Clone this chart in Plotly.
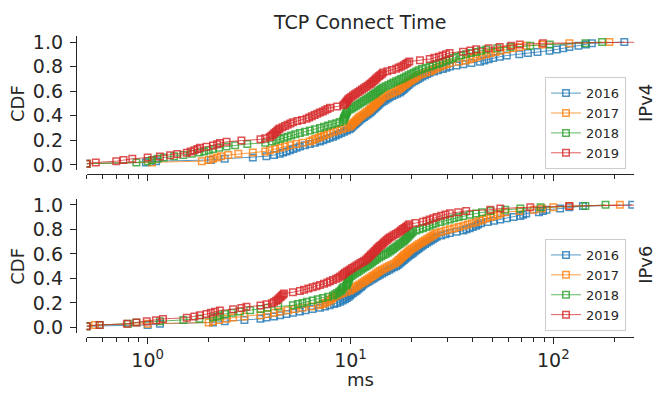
import math
import plotly.graph_objects as go

W, H = 655, 399

# ---------------- data (ms samples) ----------------
years = ["2016", "2017", "2018", "2019"]
colors = ["#1f77b4", "#ff7f0e", "#2ca02c", "#d62728"]
panel_labels = ["IPv4", "IPv6"]
x_tick_vals = [1, 10, 100]
x_tick_text = ["10<sup>0</sup>", "10<sup>1</sup>", "10<sup>2</sup>"]
y_tick_vals = [0.0, 0.2, 0.4, 0.6, 0.8, 1.0]
y_tick_text = ["0.0", "0.2", "0.4", "0.6", "0.8", "1.0"]

ipv4_2016 = [0.50, 0.98, 1.10, 2.05, 2.40, 3.30, 3.85, 4.20, 4.48, 4.65, 4.84, 5.03, 5.22, 5.42, 5.63,
             5.96, 6.31, 6.68, 7.07, 7.34, 7.62, 7.90, 8.20, 8.46, 8.73, 9.01, 9.30, 9.60, 9.90, 10.05,
             10.2, 10.36, 10.52, 10.68, 10.84, 11.0, 11.2, 11.45, 11.68, 11.9, 12.15, 12.4, 12.58, 12.77,
             12.96, 13.15, 13.35, 13.55, 13.75, 13.95, 14.27, 14.6, 14.9, 15.25, 15.6, 16.05, 16.5, 17.0,
             17.5, 17.8, 18.1, 18.4, 18.7, 19.0, 19.3, 19.6, 20.05, 20.5, 21.0, 21.5, 22.0, 22.6, 23.3,
             23.9, 24.6, 25.8, 27.0, 28.5, 29.7, 30.9, 33.3, 36.0, 39.5, 43.5, 45.7, 48.0, 50.5, 54.5,
             59.0, 68.0, 75.0, 83.6, 95.8, 104, 112, 120, 133, 145, 155, 224]
ipv4_2017 = [0.50, 1.05, 1.85, 2.0, 2.1, 2.2, 2.3, 2.5, 2.8, 3.3, 3.8, 4.0, 4.25, 4.5, 4.75, 5.05, 5.4,
             5.8, 6.3, 6.5, 6.7, 6.95, 7.15, 7.4, 7.65, 7.9, 8.26, 8.64, 9.04, 9.46, 9.9, 10.04, 10.18,
             10.33, 10.48, 10.63, 10.78, 10.94, 11.1, 11.33, 11.56, 11.8, 12.03, 12.28, 12.46, 12.64,
             12.83, 13.0, 13.2, 13.4, 13.6, 13.8, 14.0, 14.2, 14.4, 14.85, 15.3, 15.8, 16.3, 16.8, 17.1,
             17.5, 17.8, 18.1, 18.5, 18.9, 19.2, 19.6, 20.0, 20.5, 20.9, 21.3, 21.8, 22.5, 23.5, 24.6,
             25.3, 26.0, 26.8, 27.6, 28.7, 29.8, 30.9, 34.2, 37.0, 38.7, 40.3, 42.0, 44.3, 46.7, 49.2,
             51.9, 54.8, 58.8, 63.3, 68.2, 73.5, 88, 120, 189]
ipv4_2018 = [0.50, 0.88, 1.0, 1.05, 1.12, 1.2, 1.35, 1.5, 1.65, 1.8, 1.9, 2.0, 2.1, 2.25, 2.45, 2.7, 3.1,
             3.8, 4.1, 4.3, 4.5, 4.7, 4.9, 5.1, 5.35, 5.63, 5.96, 6.31, 6.68, 7.07, 7.4, 7.75, 8.1, 8.5,
             8.85, 9.2, 9.25, 9.3, 9.36, 9.42, 9.48, 9.54, 9.6, 9.66, 9.92, 10.15, 10.38, 10.6, 10.85,
             11.1, 11.35, 11.6, 11.86, 12.13, 12.4, 12.65, 12.9, 13.15, 13.4, 13.66, 13.93, 14.2, 14.5,
             14.93, 15.4, 15.84, 16.3, 16.8, 17.3, 17.8, 18.3, 18.8, 19.35, 19.9, 20.5, 21.1, 21.7, 22.5,
             23.5, 24.6, 25.5, 26.5, 27.5, 28.5, 29.6, 30.8, 32.0, 33.2, 35.1, 37.1, 39.3, 41.6, 44.0,
             46.8, 53.0, 61.4, 77, 96, 144, 174]
ipv4_2019 = [0.50, 0.555, 0.70, 0.76, 0.84, 1.0, 1.15, 1.29, 1.4, 1.56, 1.63, 1.7, 1.76, 1.81, 1.95,
             2.1, 2.2, 2.27, 2.45, 2.9, 3.6, 3.8, 4.0, 4.07, 4.14, 4.21, 4.28, 4.35, 4.42, 4.48, 4.62,
             4.76, 4.9, 5.05, 5.2, 5.47, 5.76, 6.07, 6.26, 6.45, 6.65, 6.86, 7.07, 7.3, 7.5, 7.7, 7.93,
             8.6, 9.2, 9.35, 9.45, 9.55, 9.65, 9.75, 9.9, 10.1, 10.3, 10.5, 10.7, 10.93, 11.16, 11.4,
             11.64, 11.89, 12.14, 12.4, 12.6, 12.8, 13.0, 13.2, 13.4, 13.6, 13.85, 14.05, 14.3, 14.5,
             15.2, 16.0, 16.8, 17.3, 17.8, 18.3, 18.7, 19.1, 19.5, 22.0, 24.6, 25.9, 27.3, 28.4, 29.6,
             30.8, 35.9, 39.0, 41.7, 48.0, 54.4, 62.0, 68.4, 89, 320]

ipv6_2016 = [0.50, 1.0, 1.15, 2.1, 2.4, 3.0, 3.6, 3.85, 4.2, 4.5, 4.84, 5.2, 5.63, 6.0, 6.5, 7.07, 7.5,
             7.9, 8.3, 8.6, 8.9, 9.15, 9.4, 9.6, 9.8, 9.95, 10.1, 10.3, 10.5, 10.7, 10.85, 11.05, 11.25,
             11.4, 11.6, 11.87, 12.15, 12.43, 12.72, 13.0, 13.3, 13.62, 13.95, 14.33, 14.7, 15.1, 15.5,
             15.9, 16.35, 16.8, 17.1, 17.4, 17.7, 18.0, 18.3, 18.6, 18.95, 19.3, 19.6, 20.0, 20.35, 20.7,
             21.1, 21.5, 21.9, 22.35, 22.8, 23.3, 23.8, 24.35, 24.9, 25.45, 26.0, 26.6, 28.0, 29.4, 30.9,
             33.4, 36.0, 37.3, 38.7, 40.1, 41.6, 42.6, 44.0, 47.5, 51.0, 54.8, 59.0, 63.7, 68.8, 71.0,
             73.5, 85, 89, 92.6, 108, 120, 140, 245]
ipv6_2017 = [0.50, 0.55, 1.0, 2.0, 2.1, 2.25, 2.45, 2.64, 3.0, 3.6, 3.9, 4.2, 4.48, 4.9, 5.3, 5.8, 6.4,
             7.07, 7.3, 7.5, 7.7, 7.93, 8.05, 8.15, 8.3, 8.6, 8.9, 9.2, 9.55, 9.9, 10.13, 10.36, 10.6,
             10.84, 11.08, 11.34, 11.6, 11.84, 12.08, 12.33, 12.59, 12.85, 13.11, 13.38, 13.66, 13.95,
             14.3, 14.7, 15.1, 15.5, 15.9, 16.35, 16.8, 17.05, 17.3, 17.6, 17.85, 18.15, 18.4, 18.7,
             19.0, 19.3, 19.6, 20.0, 20.45, 20.9, 21.35, 21.8, 22.3, 22.8, 23.3, 23.8, 24.35, 24.9,
             25.45, 26.0, 26.6, 27.9, 29.4, 30.9, 32.5, 34.2, 36.0, 37.8, 39.7, 41.6, 43.3, 45.0, 46.8,
             49.0, 51.0, 53.0, 54.8, 58, 68, 80, 88, 100, 120, 213]
ipv6_2018 = [0.50, 0.58, 0.8, 0.88, 1.15, 1.5, 1.8, 2.1, 2.2, 2.27, 2.4, 2.6, 2.85, 3.2, 3.6, 3.9, 4.4,
             5.2, 5.5, 5.8, 6.1, 6.5, 6.9, 7.3, 7.75, 8.2, 8.4, 8.6, 8.8, 8.95, 9.05, 9.15, 9.25, 9.5,
             9.6, 9.65, 9.7, 9.75, 9.8, 9.85, 9.9, 10.1, 10.3, 10.55, 10.8, 11.0, 11.25, 11.5, 11.75,
             12.0, 12.25, 12.5, 12.75, 13.0, 13.25, 13.5, 13.85, 14.2, 14.55, 14.9, 15.25, 15.6, 15.9,
             16.2, 16.5, 16.85, 17.2, 17.5, 17.85, 18.2, 18.45, 18.7, 18.95, 19.2, 19.5, 19.75, 20.0,
             20.3, 21.1, 21.9, 22.8, 23.7, 24.5, 25.4, 26.3, 27.8, 29.3, 30.9, 32.5, 34.2, 36.0, 38.8,
             41.6, 44.5, 49.0, 58.0, 68.8, 86.6, 144, 181]
ipv6_2019 = [0.50, 0.58, 0.79, 0.88, 0.99, 1.1, 1.19, 1.56, 1.7, 1.81, 1.95, 2.05, 2.15, 2.27, 2.64, 2.9,
             3.07, 3.6, 3.85, 4.1, 4.2, 4.3, 4.38, 4.45, 4.52, 4.58, 4.64, 4.7, 5.2, 5.63, 5.9, 6.2, 6.5,
             6.8, 7.07, 7.4, 7.7, 7.93, 8.2, 8.5, 8.7, 8.9, 9.1, 9.25, 9.4, 9.6, 9.8, 10.0, 10.2, 10.45,
             10.7, 10.95, 11.2, 11.45, 11.7, 11.95, 12.15, 12.3, 12.5, 12.65, 12.85, 13.0, 13.2, 13.4,
             13.55, 13.75, 13.95, 14.2, 14.4, 14.6, 14.85, 15.1, 15.35, 15.6, 15.95, 16.3, 16.7, 17.1,
             17.5, 17.8, 18.1, 18.45, 18.8, 19.15, 19.5, 20.9, 22.8, 23.7, 24.6, 25.6, 26.6, 28.0, 29.4,
             30.9, 34.0, 37.2, 48.9, 54.8, 77, 120, 320]

panels = [
    [ipv4_2016, ipv4_2017, ipv4_2018, ipv4_2019],
    [ipv6_2016, ipv6_2017, ipv6_2018, ipv6_2019],
]

# ---------------- layout helpers (pixel -> paper) ----------------
def fx(p):
    return p / W

def fy(p):
    return (H - p) / H

def rgba(hex_color, a):
    h = hex_color.lstrip("#")
    return "rgba(%d,%d,%d,%.2f)" % (int(h[0:2], 16), int(h[2:4], 16), int(h[4:6], 16), a)

INK = "#262626"
FONT = "DejaVu Sans"

fig = go.Figure()
axis_ids = [("x", "y", "legend"), ("x2", "y2", "legend2")]
for p, series in enumerate(panels):
    xa, ya, lg = axis_ids[p]
    for year, col, samples in zip(years, colors, series):
        xs = sorted(samples)
        n = len(xs)
        ys = [(i + 1) / n for i in range(n)]
        fig.add_trace(go.Scatter(
            x=xs, y=ys, mode="lines+markers", name=year,
            xaxis=xa, yaxis=ya, legend=lg,
            line=dict(color=rgba(col, 0.75), width=1),
            marker=dict(symbol="square-open", size=6.5, color=rgba(col, 0.8),
                        line=dict(width=1.5, color=rgba(col, 0.8))),
        ))

x_left, x_right = 86.6, 634.0
x_range = [math.log10(0.5), math.log10(250)]
minor_vals = [m * 10 ** e for e in (-1, 0, 1, 2) for m in range(2, 10)
              if 0.5 <= m * 10 ** e <= 250]

def xaxis_cfg(line_py, labels):
    return dict(
        type="log", range=x_range, domain=[fx(x_left), fx(x_right)],
        anchor="free", position=fy(line_py),
        showline=True, linecolor=INK, linewidth=1.3,
        ticks="outside", ticklen=6, tickwidth=1.3, tickcolor=INK,
        tickmode="array", tickvals=x_tick_vals, ticktext=x_tick_text,
        showticklabels=labels, tickfont=dict(size=19, color=INK, family=FONT),
        minor=dict(tickmode="array", tickvals=minor_vals, ticks="outside",
                   ticklen=3.5, tickwidth=1, tickcolor=INK, showgrid=False),
        showgrid=False, zeroline=False,
    )

def yaxis_cfg(y0_px, y1_px):
    # y0_px: pixel of value 0, y1_px: pixel of value 1
    per = y0_px - y1_px
    r0, r1 = -0.045, 1.05
    bottom = y0_px - r0 * per
    top = y1_px - (r1 - 1) * per
    return dict(
        range=[r0, r1], domain=[fy(bottom), fy(top)],
        anchor="free", position=fx(76),
        showline=True, linecolor=INK, linewidth=1.3,
        ticks="outside", ticklen=6, tickwidth=1.3, tickcolor=INK,
        tickmode="array", tickvals=y_tick_vals, ticktext=y_tick_text,
        tickfont=dict(size=19, color=INK, family=FONT),
        ticklabelstandoff=3,
        showgrid=False, zeroline=False,
    )

legend_common = dict(
    xanchor="left", yanchor="top",
    bgcolor="rgba(255,255,255,0.8)", bordercolor="#cccccc", borderwidth=1,
    font=dict(size=13, color=INK, family=FONT),
)

fig.update_layout(
    width=W, height=H, margin=dict(l=0, r=0, t=0, b=0),
    paper_bgcolor="white", plot_bgcolor="white",
    font=dict(family=FONT, color=INK),
    xaxis=xaxis_cfg(173.3, False),
    xaxis2=xaxis_cfg(340.7, True),
    yaxis=yaxis_cfg(164.0, 38.0),
    yaxis2=yaxis_cfg(330.7, 205.0),
    legend=dict(x=fx(545), y=fy(74), **legend_common),
    legend2=dict(x=fx(545), y=fy(240), **legend_common),
    annotations=[
        dict(text="TCP Connect Time", x=fx(359), y=fy(17), xref="paper", yref="paper",
             showarrow=False, xanchor="center", yanchor="middle",
             font=dict(size=19, color=INK, family=FONT)),
        dict(text="CDF", x=fx(17.5), y=fy(101), xref="paper", yref="paper", textangle=-90,
             showarrow=False, xanchor="center", yanchor="middle",
             font=dict(size=18, color=INK, family=FONT)),
        dict(text="CDF", x=fx(17.5), y=fy(268), xref="paper", yref="paper", textangle=-90,
             showarrow=False, xanchor="center", yanchor="middle",
             font=dict(size=18, color=INK, family=FONT)),
        dict(text=panel_labels[0], x=fx(645.5), y=fy(101), xref="paper", yref="paper", textangle=-90,
             showarrow=False, xanchor="center", yanchor="middle",
             font=dict(size=18, color=INK, family=FONT)),
        dict(text=panel_labels[1], x=fx(645.5), y=fy(267), xref="paper", yref="paper", textangle=-90,
             showarrow=False, xanchor="center", yanchor="middle",
             font=dict(size=18, color=INK, family=FONT)),
        dict(text="ms", x=fx(360), y=fy(384), xref="paper", yref="paper",
             showarrow=False, xanchor="center", yanchor="middle",
             font=dict(size=18, color=INK, family=FONT)),
    ],
)

fig.write_html("out.html", config={"displayModeBar": False},
               post_script="document.body.style.margin='0';document.body.style.overflow='hidden';")
